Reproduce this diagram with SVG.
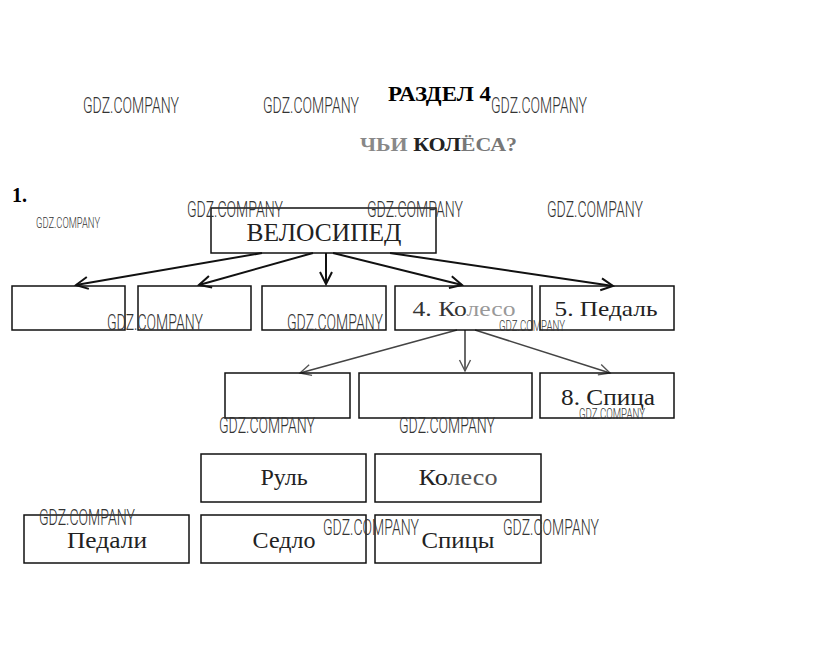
<svg xmlns="http://www.w3.org/2000/svg" width="823" height="668" viewBox="0 0 823 668">
<defs>
<style>
.box{fill:none;stroke:#111;stroke-width:1.5}
.lbl{font-family:"Liberation Serif","Times New Roman",serif;text-anchor:middle;fill:#222}
.wm{font-family:Roboto,"DejaVu Sans",sans-serif;font-weight:300;fill:#333;font-size:22px}
.wms{font-family:Roboto,"DejaVu Sans",sans-serif;font-weight:300;fill:#333;font-size:14px}
.head{font-family:"Liberation Serif","Times New Roman",serif;font-weight:bold}
.ar{stroke:#111;stroke-width:2;fill:none;marker-end:url(#ah)}
.ar2{stroke:#444;stroke-width:1.6;fill:none;marker-end:url(#ah2)}
</style>
<marker id="ah" markerUnits="userSpaceOnUse" markerWidth="16" markerHeight="16" refX="13" refY="7" orient="auto">
<path d="M1,1 L13,7 L1,13" fill="none" stroke="#111" stroke-width="2"/>
</marker>
<marker id="ah2" markerUnits="userSpaceOnUse" markerWidth="16" markerHeight="16" refX="13" refY="7" orient="auto">
<path d="M2,1.5 L13,7 L2,12.5" fill="none" stroke="#555" stroke-width="1.4"/>
</marker>
</defs>
<rect width="823" height="668" fill="#fff"/>

<g id="headings">
<text class="head" x="388" y="101" font-size="20" textLength="103" lengthAdjust="spacingAndGlyphs">РАЗДЕЛ 4</text>
<text class="head" x="360" y="151" font-size="18" textLength="157" lengthAdjust="spacingAndGlyphs"><tspan fill="#888">ЧЬИ </tspan><tspan fill="#222">КОЛ</tspan><tspan fill="#777">ЁСА?</tspan></text>
<text class="head" x="12" y="202" font-size="20">1.</text>
</g>

<g id="connectors">
<line class="ar" x1="262" y1="253" x2="76" y2="285"/>
<line class="ar" x1="313" y1="253" x2="199" y2="285"/>
<line class="ar" x1="326" y1="253" x2="326" y2="284"/>
<line class="ar" x1="333" y1="253" x2="462" y2="285"/>
<line class="ar" x1="390" y1="253" x2="613" y2="286"/>
<line class="ar2" x1="457" y1="330" x2="300" y2="373"/>
<line class="ar2" x1="465" y1="330" x2="465" y2="371"/>
<line class="ar2" x1="475" y1="330" x2="610" y2="373"/>
</g>

<g id="n-bike"><rect class="box" x="211" y="208" width="225" height="45"/><text class="lbl" x="324" y="241" font-size="26" textLength="155" lengthAdjust="spacingAndGlyphs">ВЕЛОСИПЕД</text></g>
<g id="n-r1-1"><rect class="box" x="12" y="286" width="113" height="44"/></g>
<g id="n-r1-2"><rect class="box" x="138" y="286" width="113" height="44"/></g>
<g id="n-r1-3"><rect class="box" x="262" y="286" width="124" height="44"/></g>
<g id="n-wheel"><rect class="box" x="395" y="286" width="137" height="44"/><text class="lbl" x="464" y="316" font-size="22" textLength="103" lengthAdjust="spacingAndGlyphs"><tspan fill="#333">4. Ко</tspan><tspan fill="#999">лесо</tspan></text></g>
<g id="n-pedal"><rect class="box" x="540" y="286" width="134" height="44"/><text class="lbl" x="606" y="316" font-size="22" fill="#888" textLength="103" lengthAdjust="spacingAndGlyphs">5. Педаль</text></g>

<g id="n-r2-1"><rect class="box" x="225" y="373" width="125" height="45"/></g>
<g id="n-r2-2"><rect class="box" x="359" y="373" width="173" height="45"/></g>
<g id="n-spoke"><rect class="box" x="540" y="373" width="134" height="45"/><text class="lbl" x="608" y="405" font-size="24" fill="#111" textLength="94" lengthAdjust="spacingAndGlyphs">8. Спица</text></g>

<g id="n-rul"><rect class="box" x="201" y="454" width="165" height="48"/><text class="lbl" x="284" y="485" font-size="24" fill="#999">Руль</text></g>
<g id="n-koleso"><rect class="box" x="375" y="454" width="166" height="48"/><text class="lbl" x="458" y="485" font-size="24" textLength="79" lengthAdjust="spacingAndGlyphs"><tspan fill="#222">Ко</tspan><tspan fill="#555">лесо</tspan></text></g>
<g id="n-pedali"><rect class="box" x="24" y="515" width="165" height="48"/><text class="lbl" x="107" y="548" font-size="24" fill="#777" textLength="80" lengthAdjust="spacingAndGlyphs">Педали</text></g>
<g id="n-sedlo"><rect class="box" x="201" y="515" width="165" height="48"/><text class="lbl" x="284" y="548" font-size="24" fill="#444">Седло</text></g>
<g id="n-spicy"><rect class="box" x="375" y="515" width="166" height="48"/><text class="lbl" x="458" y="548" font-size="24" fill="#333" textLength="73" lengthAdjust="spacingAndGlyphs">Спицы</text></g>

<g id="watermarks">
<text class="wm" x="83" y="113" textLength="96" lengthAdjust="spacingAndGlyphs">GDZ.COMPANY</text>
<text class="wm" x="263" y="113" textLength="96" lengthAdjust="spacingAndGlyphs">GDZ.COMPANY</text>
<text class="wm" x="491" y="113" textLength="96" lengthAdjust="spacingAndGlyphs">GDZ.COMPANY</text>
<text class="wms" x="36" y="228" textLength="64" lengthAdjust="spacingAndGlyphs">GDZ.COMPANY</text>
<text class="wm" x="187" y="217" textLength="96" lengthAdjust="spacingAndGlyphs">GDZ.COMPANY</text>
<text class="wm" x="367" y="217" textLength="96" lengthAdjust="spacingAndGlyphs">GDZ.COMPANY</text>
<text class="wm" x="547" y="217" textLength="96" lengthAdjust="spacingAndGlyphs">GDZ.COMPANY</text>
<text class="wm" x="107" y="330" textLength="96" lengthAdjust="spacingAndGlyphs">GDZ.COMPANY</text>
<text class="wm" x="287" y="330" textLength="96" lengthAdjust="spacingAndGlyphs">GDZ.COMPANY</text>
<text class="wms" x="499" y="331" textLength="66" lengthAdjust="spacingAndGlyphs">GDZ.COMPANY</text>
<text class="wm" x="219" y="433" textLength="96" lengthAdjust="spacingAndGlyphs">GDZ.COMPANY</text>
<text class="wm" x="399" y="433" textLength="96" lengthAdjust="spacingAndGlyphs">GDZ.COMPANY</text>
<text class="wms" x="579" y="419" textLength="66" lengthAdjust="spacingAndGlyphs">GDZ.COMPANY</text>
<text class="wm" x="39" y="525" textLength="96" lengthAdjust="spacingAndGlyphs">GDZ.COMPANY</text>
<text class="wm" x="323" y="535" textLength="96" lengthAdjust="spacingAndGlyphs">GDZ.COMPANY</text>
<text class="wm" x="503" y="535" textLength="96" lengthAdjust="spacingAndGlyphs">GDZ.COMPANY</text>
</g>
</svg>
